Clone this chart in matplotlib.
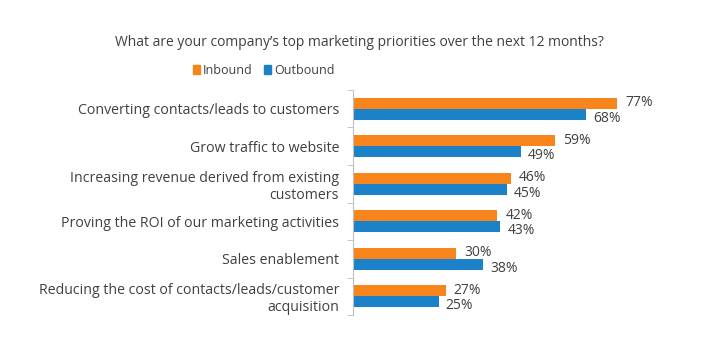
import numpy as np
import matplotlib.pyplot as plt
from matplotlib.patches import Patch

categories = [
    'Converting contacts/leads to customers',
    'Grow traffic to website',
    'Increasing revenue derived from existing\ncustomers',
    'Proving the ROI of our marketing activities',
    'Sales enablement',
    'Reducing the cost of contacts/leads/customer\nacquisition',
]
inbound = [77, 59, 46, 42, 30, 27]
outbound = [68, 49, 45, 43, 38, 25]

orange = '#F7851C'
blue = '#1B82C9'
text_col = '#404040'

plt.rcParams['font.family'] = ['Open Sans', 'DejaVu Sans']

fig = plt.figure(figsize=(7.18, 3.61), dpi=100)
ax = fig.add_axes([0.4916, 0.1274, 0.4774, 0.6233])

y = np.arange(len(categories))
h = 0.29
ax.barh(y - h / 2, inbound, height=h, color=orange, label='Inbound')
ax.barh(y + h / 2, outbound, height=h, color=blue, label='Outbound')

for i in range(len(categories)):
    ax.annotate(f'{inbound[i]}%', (inbound[i], y[i] - h / 2), xytext=(6, 0.5),
                textcoords='offset points', va='center', ha='left',
                fontsize=10, color=text_col)
    ax.annotate(f'{outbound[i]}%', (outbound[i], y[i] + h / 2), xytext=(5, -3),
                textcoords='offset points', va='center', ha='left',
                fontsize=10, color=text_col)

ax.set_xlim(0, 100)
ax.set_ylim(len(categories) - 0.5, -0.5)
ax.set_xticks([])
ax.set_yticks(y)
ax.set_yticklabels(categories, fontsize=10.2, color=text_col, ha='right')
ax.tick_params(axis='y', length=0, pad=10)
ax.set_yticks(np.arange(-0.5, len(categories)), minor=True)
ax.tick_params(axis='y', which='minor', length=4, color='#BFBFBF')
for s in ['top', 'right', 'bottom']:
    ax.spines[s].set_visible(False)
ax.spines['left'].set_color('#BFBFBF')

fig.text(0.5, 0.883, "What are your company\u2019s top marketing priorities over the next 12 months?",
         ha='center', va='center', fontsize=10, color=text_col)
handles = [Patch(color=orange, label='Inbound'), Patch(color=blue, label='Outbound')]
fig.legend(handles=handles, loc='center', bbox_to_anchor=(0.367, 0.805), ncol=2,
           frameon=False, fontsize=9, handlelength=0.55, handleheight=0.7,
           handletextpad=0.25, columnspacing=0.9, labelcolor=text_col)

fig.savefig('out.png', dpi=100)
